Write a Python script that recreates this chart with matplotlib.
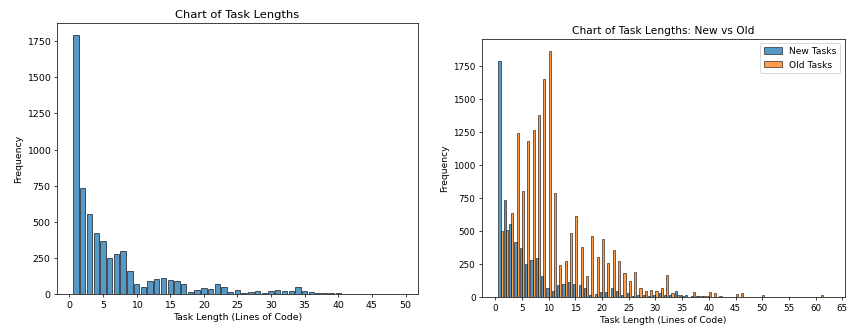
import numpy as np
import matplotlib
matplotlib.use("Agg")
import matplotlib.pyplot as plt

# Task length (lines of code) -> number of tasks
new_lengths = list(range(1, 50))
new_counts = [1790, 735, 553, 420, 370, 249, 279, 294, 160, 70,
              48, 90, 100, 112, 98, 92, 70, 14, 26, 40,
              36, 66, 46, 14, 30, 5, 14, 18, 4, 18,
              30, 18, 17, 47, 17, 12, 4, 4, 7, 7,
              1, 1, 0, 1, 0, 0, 1, 0, 1]

old_lengths = list(range(1, 63))
old_counts = [497, 507, 640, 1244, 804, 1185, 1266, 1384, 1652, 1867,
              788, 244, 273, 487, 614, 380, 157, 462, 302, 436,
              259, 355, 269, 180, 122, 190, 71, 48, 52, 47,
              69, 168, 33, 13, 5, 3, 35, 5, 8, 38,
              28, 5, 2, 0, 20, 30, 3, 2, 0, 15,
              2, 0, 1, 0, 1, 0, 0, 1, 0, 0,
              15, 3]

legend_labels = ['New Tasks', 'Old Tasks']

fig = plt.figure(figsize=(13, 5), dpi=65.3)

# left: new tasks only
ax1 = fig.add_axes([0.0671, 0.0982, 0.4252, 0.8313])
bins1 = np.arange(0.5, max(new_lengths) + 1.5)
ax1.hist(new_lengths, bins=bins1, weights=new_counts, rwidth=0.8,
         color='#1f77b4', edgecolor='black', linewidth=0.9, alpha=0.75)
ax1.set_title('Chart of Task Lengths', fontsize=12.7)
ax1.set_xlabel('Task Length (Lines of Code)', fontsize=10.4)
ax1.set_ylabel('Frequency', fontsize=10.4)
ax1.set_xticks(range(0, 51, 5))
ax1.set_yticks(range(0, 1751, 250))
ax1.tick_params(labelsize=10.4)

# right: new vs old side by side
ax2 = fig.add_axes([0.5677, 0.0890, 0.4276, 0.7914])
bins2 = np.arange(0.5, max(old_lengths) + 1.5)
ax2.hist([new_lengths, old_lengths], bins=bins2,
         weights=[new_counts, old_counts], rwidth=0.8,
         color=['#1f77b4', '#ff7f0e'], edgecolor='black', linewidth=0.8,
         alpha=0.75, label=legend_labels)
ax2.set_title('Chart of Task Lengths: New vs Old', fontsize=11.7)
ax2.set_xlabel('Task Length (Lines of Code)', fontsize=10)
ax2.set_ylabel('Frequency', fontsize=10)
ax2.set_xticks(range(0, 66, 5))
ax2.set_yticks(range(0, 1751, 250))
ax2.tick_params(labelsize=9.6)
ax2.legend(loc='upper right', fontsize=10)

fig.savefig('out.png', dpi=65.3)
